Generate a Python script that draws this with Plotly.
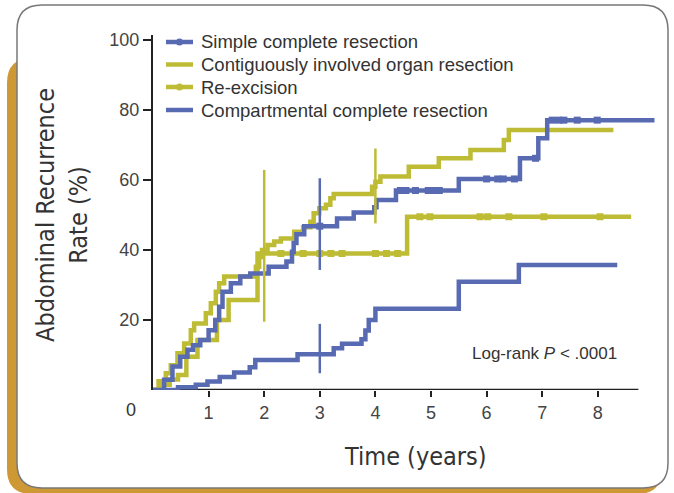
import numpy as np
import plotly.graph_objects as go

# ---------------- data ----------------
simple_t = [0, 0.2, 0.35, 0.49, 0.62, 0.72, 0.85, 1.0, 1.12, 1.19, 1.25, 1.40, 1.57, 1.75, 2.08,
            2.40, 2.50, 2.53, 2.58, 2.72, 3.31, 3.61, 3.98, 4.02, 4.37, 5.5, 6.6, 6.93, 7.09, 9.02]
simple_v = [0, 2.9, 6.7, 9.5, 11.5, 12.8, 14.3, 17.1, 20.0, 23.8, 28.1, 30.5, 32.4, 33.3, 35.2,
            36.7, 39.5, 42.0, 44.5, 46.8, 49.0, 50.7, 52.2, 54.3, 57.0, 60.3, 66.2, 71.9, 77.1, 77.1]
simple_censor = [3.0, 4.45, 4.55, 4.72, 4.95, 5.05, 5.15, 6.0, 6.2, 6.3, 6.5, 6.88,
                 7.18, 7.3, 7.39, 7.63, 7.99]

contig_t = [0, 0.1, 0.23, 0.32, 0.44, 0.56, 0.68, 0.74, 0.95, 1.04, 1.13, 1.19, 1.28, 1.85, 1.91,
            1.96, 2.06, 2.18, 2.30, 2.54, 2.70, 2.83, 2.89, 2.99, 3.11, 3.19, 3.25, 3.94, 4.0, 4.09,
            4.6, 5.14, 5.71, 6.31, 6.4, 8.28]
contig_v = [0, 2.5, 4.8, 7.1, 10.5, 13.3, 17.1, 19.0, 21.9, 24.8, 28.1, 30.5, 32.4, 35.2, 38.0,
            40.0, 41.4, 42.4, 43.3, 45.2, 46.5, 48.1, 50.5, 51.9, 52.9, 54.8, 56.0, 58.1, 59.5, 61.0,
            63.8, 66.2, 68.6, 71.4, 74.3, 74.3]

reexc_t = [0, 0.15, 0.30, 0.45, 0.60, 0.80, 1.15, 1.36, 1.88, 4.57, 8.6]
reexc_v = [0, 1.5, 3.0, 4.3, 9.5, 14.3, 20.0, 25.7, 39.0, 49.5, 49.5]
reexc_censor = [2.3, 2.7, 3.0, 3.2, 3.4, 4.0, 4.2, 4.4, 4.8, 4.98, 5.88, 6.02, 6.4, 7.03, 8.04]

comp_t = [0, 0.45, 0.77, 0.98, 1.20, 1.46, 1.74, 1.84, 2.60, 3.25, 3.40, 3.75, 3.82, 3.88, 4.0,
          5.5, 6.58, 8.35]
comp_v = [0, 0.8, 1.5, 2.4, 3.7, 5.0, 6.5, 8.6, 10.2, 11.9, 13.2, 14.5, 17.0, 20.0, 23.2,
          30.9, 35.7, 35.7]

# confidence intervals (time, low, high)
ci_simple = (3.0, 34.3, 60.5)
ci_contig = (4.0, 47.6, 69.0)
ci_reexc = (2.0, 19.5, 62.9)
ci_comp = (3.0, 4.8, 18.9)

x_ticks = [1, 2, 3, 4, 5, 6, 7, 8]
y_ticks = [20, 40, 60, 80, 100]

names = ["Simple complete resection", "Contiguously involved organ resection",
         "Re-excision", "Compartmental complete resection"]

BLUE = "rgb(88,106,178)"
OLIVE = "rgb(190,188,52)"
legend_colors = [BLUE, OLIVE, OLIVE, BLUE]
legend_marks = [True, False, True, False]

# ---------------- geometry ----------------
W, H = 674, 493
L, R, T, B = 153, 14, 35, 103
PW, PH = W - L - R, H - T - B
X_MAX = PW / 55.6
Y_MAX = PH / 3.5


def px(x):
    return (x - L) / PW


def py(y):
    return (H - B - y) / PH


def step_val(ts, vs, t):
    i = np.searchsorted(np.array(ts), t, side="right") - 1
    return vs[max(i, 0)]


fig = go.Figure()

LW = 4.5
for t, v, c in [(comp_t, comp_v, BLUE), (reexc_t, reexc_v, OLIVE),
                (contig_t, contig_v, OLIVE), (simple_t, simple_v, BLUE)]:
    fig.add_trace(go.Scatter(x=t, y=v, mode="lines", line=dict(color=c, width=LW, shape="hv"),
                             showlegend=False, hoverinfo="skip"))

# censor marks
for ts, vs, cens, c in [(reexc_t, reexc_v, reexc_censor, OLIVE),
                        (simple_t, simple_v, simple_censor, BLUE)]:
    fig.add_trace(go.Scatter(x=cens, y=[step_val(ts, vs, t) for t in cens], mode="markers",
                             marker=dict(symbol="square", size=7, color=c),
                             showlegend=False, hoverinfo="skip"))

# confidence intervals
for (t, lo, hi), c in [(ci_simple, BLUE), (ci_contig, OLIVE), (ci_reexc, OLIVE), (ci_comp, BLUE)]:
    fig.add_trace(go.Scatter(x=[t, t], y=[lo, hi], mode="lines", line=dict(color=c, width=2.5),
                             showlegend=False, hoverinfo="skip"))


# frame with shadow
def rrect(x0, y0, x1, y1, r):
    return ("M {a},{b} L {c},{b} Q {d},{b} {d},{e} L {d},{f} Q {d},{g} {c},{g} "
            "L {a},{g} Q {h},{g} {h},{f} L {h},{e} Q {h},{b} {a},{b} Z").format(
        a=px(x0 + r), b=py(y0), c=px(x1 - r), d=px(x1), e=py(y0 + r), f=py(y1 - r),
        g=py(y1), h=px(x0))


shapes = [
    dict(type="path", xref="paper", yref="paper", path=rrect(7, 58, 662, 494, 25),
         fillcolor="rgb(206,152,52)", line=dict(width=0), layer="below"),
    dict(type="path", xref="paper", yref="paper", path=rrect(17, 5, 668, 488, 25),
         fillcolor="white", line=dict(color="rgb(120,120,120)", width=1.5), layer="below"),
    dict(type="line", xref="x", yref="y", x0=0, x1=8.73, y0=0, y1=0,
         line=dict(color="rgb(30,30,30)", width=2.5), layer="below"),
]

TITLE_FONT = "Liberation Sans Narrow, DejaVu Sans Condensed, Arial Narrow, sans-serif"
TICK_FONT = "Liberation Sans, Arial, sans-serif"


def ann(x, y, text, size, family=TICK_FONT, xanchor="center", **kw):
    return dict(xref="paper", yref="paper", x=px(x), y=py(y), text=text, showarrow=False,
                xanchor=xanchor, yanchor="middle",
                font=dict(family=family, size=size, color="#333"), **kw)


annotations = [
    ann(131, 410, "0", 18),
    ann(415, 456, "Time (years)", 25, TITLE_FONT),
    ann(62, 215, "Abdominal Recurrence<br>Rate (%)", 25, TITLE_FONT, textangle=-90),
    ann(619, 353, "Log-rank <i>P</i> < .0001", 17, xanchor="right"),
]

# manual legend
row_y = [42, 64.5, 87, 110]
for n, c, m, yy in zip(names, legend_colors, legend_marks, row_y):
    shapes.append(dict(type="line", xref="paper", yref="paper", x0=px(166), x1=px(193),
                       y0=py(yy), y1=py(yy), line=dict(color=c, width=4.5)))
    if m:
        shapes.append(dict(type="circle", xref="paper", yref="paper", x0=px(176), x1=px(183),
                           y0=py(yy - 3.5), y1=py(yy + 3.5), fillcolor=c,
                           line=dict(color=c, width=0)))
    annotations.append(ann(199, yy, n, 18.5, xanchor="left"))

fig.update_layout(
    width=W, height=H,
    margin=dict(l=L, r=R, t=T, b=B),
    paper_bgcolor="white", plot_bgcolor="rgba(0,0,0,0)",
    shapes=shapes, annotations=annotations,
    showlegend=False,
    xaxis=dict(range=[0, X_MAX], showgrid=False, zeroline=False, showline=False,
               tickvals=x_ticks, ticks="outside", ticklen=6, tickwidth=2, tickcolor="#222",
               tickfont=dict(family=TICK_FONT, size=18, color="#444")),
    yaxis=dict(range=[0, Y_MAX], showgrid=False, zeroline=False, showline=True, linewidth=2,
               linecolor="#222", tickvals=y_ticks, ticks="outside", ticklen=8, tickwidth=2,
               tickcolor="#222", tickfont=dict(family=TICK_FONT, size=18, color="#444")),
)

fig.write_html("out.html", config={"displayModeBar": False},
               post_script="document.body.style.margin='0';document.body.style.overflow='hidden';")
